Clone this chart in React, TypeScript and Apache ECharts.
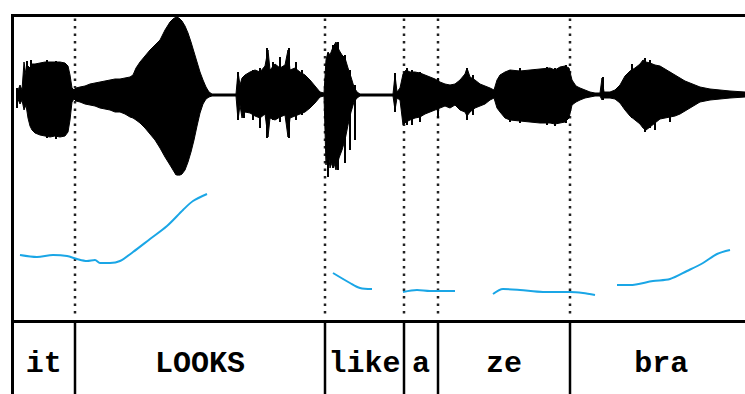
import React, { useEffect, useRef } from "react";
import * as echarts from "echarts";

// time in ms (2 ms per pixel column of the original picture)
const waveTimes = [34,40,44,48,52,56,60,64,70,80,90,100,110,120,130,136,140,144,148,152,160,170,180,190,200,210,220,230,240,250,260,266,272,280,290,300,310,320,330,340,346,352,358,364,370,376,382,388,394,400,406,412,418,424,472,476,480,484,490,500,510,520,530,536,540,550,560,570,576,580,590,600,610,620,630,640,648,652,656,660,666,672,678,684,690,696,702,708,714,720,786,790,794,800,806,812,820,830,840,850,860,870,880,890,900,910,920,930,934,940,950,960,970,980,988,994,1000,1010,1020,1040,1060,1080,1100,1110,1120,1130,1138,1144,1152,1160,1170,1180,1190,1200,1204,1208,1220,1230,1240,1250,1260,1270,1280,1286,1292,1300,1310,1320,1330,1340,1350,1360,1370,1380,1390,1400,1420,1440,1460,1490];
const waveUpper = [2,10,5,33,20,29,27,31,31,32,33,33,33,33,32,29,20,7,5,7,8,9,11,12,13,14,15,16,16,17,18,20,27,33,39,45,50,55,65,73,76,78,77,74,69,62,53,43,33,23,15,8,3,1,1,23,10,17,20,23,25,23,29,45,25,31,27,30,45,25,27,23,20,15,9,3,2,35,43,40,48,53,45,40,37,27,18,8,3,1,1,20,3,7,21,25,23,23,22,20,18,16,13,11,10,11,15,21,27,18,15,11,9,7,5,15,20,23,25,24,25,26,27,25,28,29,27,15,9,7,5,3,2,2,17,3,3,5,10,19,24,27,31,35,33,32,30,29,26,23,20,17,14,12,10,8,6,5,4,3];
const waveLower = [-2,-9,-5,-15,-10,-23,-31,-35,-38,-40,-41,-42,-41,-42,-41,-37,-25,-7,-4,-6,-7,-9,-10,-11,-13,-14,-15,-17,-17,-19,-22,-23,-25,-28,-33,-39,-45,-53,-62,-70,-75,-80,-81,-79,-75,-67,-57,-45,-31,-18,-9,-4,-2,-1,-1,-25,-10,-23,-17,-18,-21,-23,-19,-42,-23,-25,-22,-20,-42,-23,-21,-19,-17,-13,-8,-2,-1,-70,-55,-73,-65,-75,-63,-55,-45,-30,-17,-7,-3,-1,-1,-15,-3,-5,-30,-27,-25,-23,-22,-19,-17,-15,-13,-11,-13,-10,-15,-17,-21,-17,-13,-11,-9,-5,-3,-13,-17,-23,-25,-26,-27,-28,-28,-29,-28,-27,-23,-10,-7,-5,-3,-2,-1,-1,-5,-3,-3,-4,-8,-15,-21,-25,-29,-33,-35,-32,-28,-24,-23,-22,-21,-19,-16,-13,-10,-7,-5,-4,-3,-2];

// isolated waveform spikes: time ms, positive peak, negative peak
const spikeTimes = [34,54,62,94,112,476,488,506,520,534,546,560,578,592,604,656,666,676,690,700,710,790,814,824,840,876,934,946,1020,1040,1070,1094,1110,1132,1206,1264,1290,1300,1310,1340];
const spikeTop = [7,34,35,35,34,23,17,25,27,47,33,38,47,33,25,42,50,53,40,25,10,22,27,25,23,17,27,20,25,27,26,28,27,30,18,31,37,35,25,23];
const spikeBottom = [-13,-5,-15,-43,-44,-25,-23,-25,-33,-43,-25,-27,-43,-25,-20,-82,-73,-75,-68,-55,-45,-17,-30,-30,-27,-23,-25,-20,-27,-28,-25,-30,-31,-28,-5,-23,-37,-33,-35,-27];

// pitch contour segments: [time ms, pitch (relative units)]
const pitchIt_Looks = [[40,65],[74,63],[106,65],[134,64],[154,61],[174,59],[190,60],[200,57],[220,57],[240,59],[266,68],[300,81],[334,94],[366,110],[386,119],[414,126]];
const pitchLike = [[666,47],[700,37],[720,32],[744,31]];
const pitchA = [[806,28],[834,30],[860,29],[910,29]];
const pitchZe = [[986,26],[1006,31],[1040,30],[1086,28],[1140,28],[1166,27],[1190,25]];
const pitchBra = [[1234,35],[1260,35],[1306,39],[1340,41],[1374,49],[1406,57],[1434,66],[1460,70]];

const words = ["it", "LOOKS", "like", "a", "ze", "bra"];
const wordStarts = [25, 150, 650, 808, 876, 1140];
const wordEnds = [150, 650, 808, 876, 1140, 1505];
const boundaries = [150, 650, 808, 876, 1140];

export default function App() {
  const ref = useRef<HTMLDivElement>(null);
  useEffect(() => {
    const chart = echarts.init(ref.current!, null, { renderer: "svg" });
    const pitchSeries = [pitchIt_Looks, pitchLike, pitchA, pitchZe, pitchBra].map((seg) => ({
      type: "line",
      xAxisIndex: 2,
      yAxisIndex: 2,
      data: seg,
      smooth: 0.3,
      symbol: "none",
      lineStyle: { color: "#1aa6e6", width: 2 },
      z: 5,
    }));
    const g = { outerBoundsMode: "none", containLabel: false };
    chart.setOption({
      animation: false,
      backgroundColor: "#fff",
      grid: [
        { ...g, left: 12.5, top: 15.5, width: 740, height: 306, show: true, borderColor: "#000", borderWidth: 3, backgroundColor: "transparent" },
        { ...g, left: 0, top: 15, width: 750, height: 160 },
        { ...g, left: 0, top: 180, width: 750, height: 140 },
        { ...g, left: 12.5, top: 321.5, width: 740, height: 100, show: true, borderColor: "#000", borderWidth: 3, backgroundColor: "transparent" },
      ],
      xAxis: [
        { gridIndex: 0, type: "value", min: 25, max: 1505, show: false },
        { gridIndex: 1, type: "value", min: 0, max: 1500, show: false },
        { gridIndex: 2, type: "value", min: 0, max: 1500, show: false },
        { gridIndex: 3, type: "value", min: 25, max: 1505, show: false },
      ],
      yAxis: [
        { gridIndex: 0, type: "value", min: 0, max: 1, show: false },
        { gridIndex: 1, type: "value", min: -80, max: 80, show: false },
        { gridIndex: 2, type: "value", min: 0, max: 140, show: false },
        { gridIndex: 3, type: "value", min: 0, max: 1, show: false },
      ],
      series: [
        {
          type: "custom",
          xAxisIndex: 0,
          yAxisIndex: 0,
          data: boundaries.map((t) => [t]),
          z: 1,
          renderItem: (params: any, api: any) => {
            const a = api.coord([api.value(0), 0.99]);
            const b = api.coord([api.value(0), 0.015]);
            return {
              type: "line",
              shape: { x1: a[0], y1: a[1], x2: b[0], y2: b[1] },
              style: { stroke: "#222", lineWidth: 2.5, lineDash: [2.5, 5] },
            };
          },
        },
        {
          type: "line",
          xAxisIndex: 1,
          yAxisIndex: 1,
          data: waveTimes.map((t, i) => [t, waveUpper[i]]),
          symbol: "none",
          lineStyle: { color: "#000", width: 1 },
          areaStyle: { color: "#000", opacity: 1 },
          z: 3,
        },
        {
          type: "line",
          xAxisIndex: 1,
          yAxisIndex: 1,
          data: waveTimes.map((t, i) => [t, waveLower[i]]),
          symbol: "none",
          lineStyle: { color: "#000", width: 1 },
          areaStyle: { color: "#000", opacity: 1 },
          z: 3,
        },
        {
          type: "custom",
          xAxisIndex: 1,
          yAxisIndex: 1,
          data: spikeTimes.map((t, i) => [t, spikeTop[i], spikeBottom[i]]),
          z: 3,
          renderItem: (params: any, api: any) => {
            const a = api.coord([api.value(0), api.value(1)]);
            const b = api.coord([api.value(0), api.value(2)]);
            return {
              type: "line",
              shape: { x1: a[0], y1: a[1], x2: b[0], y2: b[1] },
              style: { stroke: "#000", lineWidth: 2 },
            };
          },
        },
        ...pitchSeries,
        {
          type: "custom",
          xAxisIndex: 3,
          yAxisIndex: 3,
          data: boundaries.map((t) => [t]),
          z: 4,
          renderItem: (params: any, api: any) => {
            const a = api.coord([api.value(0), 1]);
            const b = api.coord([api.value(0), 0]);
            return {
              type: "line",
              shape: { x1: a[0], y1: a[1], x2: b[0], y2: b[1] },
              style: { stroke: "#000", lineWidth: 2.5 },
            };
          },
        },
        {
          type: "custom",
          xAxisIndex: 3,
          yAxisIndex: 3,
          data: words.map((w, i) => [wordStarts[i], wordEnds[i], i]),
          z: 4,
          renderItem: (params: any, api: any) => {
            const c = api.coord([(api.value(0) + api.value(1)) / 2, 0.58]);
            return {
              type: "text",
              x: c[0],
              y: c[1],
              style: {
                text: words[params.dataIndex],
                fill: "#000",
                font: "bold 30px 'Liberation Mono', 'DejaVu Sans Mono', monospace",
                align: "center",
                verticalAlign: "middle",
              },
            };
          },
        },
      ],
    });
    return () => chart.dispose();
  }, []);
  return (
    <div
      ref={ref}
      style={{ position: "fixed", left: 0, top: 0, width: 745, height: 394, background: "#fff" }}
    />
  );
}
